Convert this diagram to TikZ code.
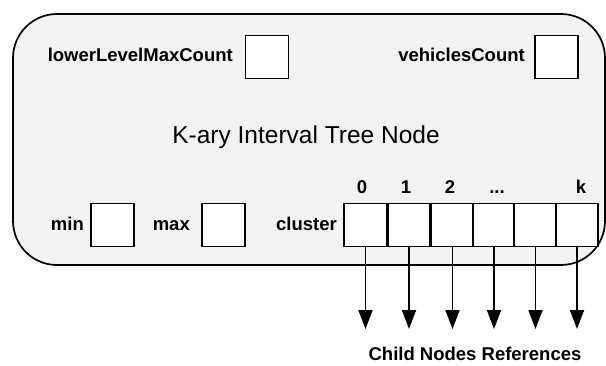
\documentclass[tikz,border=0pt]{standalone}
\usepackage{fontspec}
\setmainfont{Liberation Sans}
\usetikzlibrary{arrows.meta}
\definecolor{panel}{HTML}{F2F2F2}
\begin{document}
\begin{tikzpicture}[x=1pt,y=-1pt,
  lbl/.style={font=\bfseries\fontsize{18.5}{22}\selectfont, inner sep=0pt, text height=13.3pt, text depth=0pt},
  cellbox/.style={draw=black, line width=1.7pt, fill=white, minimum width=43pt, minimum height=43pt, inner sep=0pt},
  ptr/.style={line width=1.8pt, -{Triangle[width=14pt,length=19pt]}}]
\useasboundingbox (0,0) rectangle (606,365);
\node[draw=black, line width=1.7pt, fill=panel, rounded corners=44pt, minimum width=592pt, minimum height=251pt, inner sep=0pt] (panel) at (309,139.5) {};
\node[font=\fontsize{24.5}{29}\selectfont, inner sep=0pt, text height=17.5pt, text depth=0pt] (title) at (306,135) {K-ary Interval Tree Node};
% top row
\node[cellbox] (llmcbox) at (267,57) {};
\node[lbl, anchor=east] (llmc) at (233,55) {lowerLevelMaxCount};
\node[cellbox] (vcbox) at (556.5,57) {};
\node[lbl, anchor=east] (vc) at (525,55) {vehiclesCount};
% bottom row
\node[cellbox] (minbox) at (112.5,225) {};
\node[lbl, anchor=east] (minl) at (84,224) {min};
\node[cellbox] (maxbox) at (223.5,225) {};
\node[lbl, anchor=east] (maxl) at (190,224) {max};
\node[lbl, anchor=east] (clul) at (337,224) {cluster};
\foreach \i/\x in {0/365.5,1/409,2/452.5,3/494,4/535.5,5/577}{
  \node[cellbox, minimum width=42.5pt] (c\i) at (\x,225) {};
  \coordinate (e\i) at (\x,329);
  \draw[ptr] (c\i.south) -- (e\i);
}
\node[lbl] (i0) at (362,187) {0};
\node[lbl] (i1) at (406,187) {1};
\node[lbl] (i2) at (450,187) {2};
\node[lbl] (i3) at (497,187) {...};
\node[lbl] (ik) at (581,187) {k};
\node[lbl] (child) at (475,354) {Child Nodes References};
\end{tikzpicture}
\end{document}
